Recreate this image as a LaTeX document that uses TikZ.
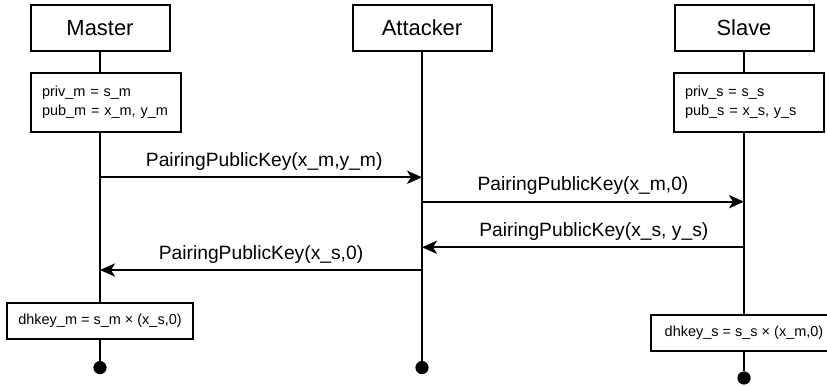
\documentclass[tikz,border=0pt]{standalone}
\usepackage{fontspec}
\setmainfont{Liberation Sans}
\usetikzlibrary{arrows.meta,positioning}
\tikzset{>={Stealth[length=0.375cm,width=0.33cm,inset=0.1cm]}}
\tikzset{
  actor/.style={draw,line width=0.05cm,minimum width=3.475cm,minimum height=1.15cm,
    font=\fontsize{15.6}{18}\selectfont},
  keybox/.style={draw,line width=0.05cm,align=left,text width=3.2cm,inner xsep=0.275cm,
    minimum height=1.475cm,font=\fontsize{10.3}{13.5}\selectfont},
  dhbox/.style={draw,line width=0.05cm,minimum width=4.65cm,minimum height=0.9cm,
    font=\fontsize{10.3}{12}\selectfont},
  enddot/.style={circle,fill=black,inner sep=0pt,minimum size=0.33cm},
  life/.style={line width=0.05cm},
  msg/.style={->,line width=0.05cm},
  msglabel/.style={anchor=base,yshift=0.27cm,font=\fontsize{13.7}{16}\selectfont}
}

\begin{document}
\begin{tikzpicture}
    \path[use as bounding box,clip] (0,0) rectangle (20.675,9.65);
    \node[actor] (master) at (2.5,8.95) {Master};
    \node[actor] (attacker) at (10.55,8.95) {Attacker};
    \node[actor] (slave) at (18.6,8.95) {Slave};
    \node[keybox] (mkeys) at (2.65,7.09) {priv\_m = s\_m\\pub\_m = x\_m, y\_m};
    \node[keybox] (skeys) at (18.725,7.09) {priv\_s = s\_s\\pub\_s = x\_s, y\_s};
    \node[dhbox] (mdh) at (2.5,1.625) {dhkey\_m = s\_m × (x\_s,0)};
    \node[dhbox] (sdh) at (18.6,1.325) {dhkey\_s = s\_s × (x\_m,0)};
    \node[enddot] (mend) at (2.5,0.46) {};
    \node[enddot] (aend) at (10.55,0.46) {};
    \node[enddot] (send) at (18.6,0.2) {};
    \draw[life] (master.south) -- (master.south |- mkeys.north);
    \draw[life] (master.south |- mkeys.south) -- (mdh.north);
    \draw[life] (mdh.south) -- (mend);
    \draw[life] (attacker.south) -- (aend);
    \draw[life] (slave.south) -- (slave.south |- skeys.north);
    \draw[life] (slave.south |- skeys.south) -- (sdh.north);
    \draw[life] (sdh.south) -- (send);
    \coordinate (m1) at (2.5,5.2175);
    \coordinate (a1) at (10.55,5.2175);
    \coordinate (a2) at (10.55,4.6075);
    \coordinate (s2) at (18.6,4.6075);
    \coordinate (s3) at (18.6,3.4675);
    \coordinate (a3) at (10.55,3.4675);
    \coordinate (a4) at (10.55,2.9);
    \coordinate (m4) at (2.5,2.9);
    \draw[msg] (m1) -- node[msglabel,xshift=0.08cm] {PairingPublicKey(x\_m,y\_m)} (a1);
    \draw[msg] (a2) -- node[msglabel] {PairingPublicKey(x\_m,0)} (s2);
    \draw[msg] (s3) -- node[msglabel,xshift=0.27cm] {PairingPublicKey(x\_s, y\_s)} (a3);
    \draw[msg] (a4) -- node[msglabel] {PairingPublicKey(x\_s,0)} (m4);
\end{tikzpicture}
\end{document}
